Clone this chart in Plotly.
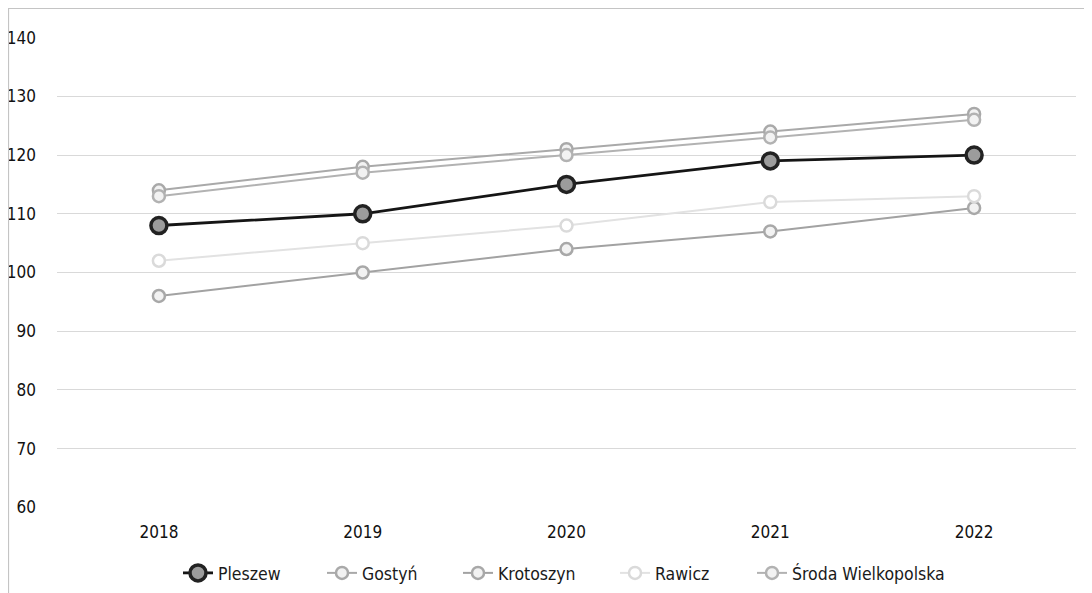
import plotly.graph_objects as go

years = ["2018", "2019", "2020", "2021", "2022"]
pleszew = [108, 110, 115, 119, 120]
gostyn = [114, 118, 121, 124, 127]
krotoszyn = [96, 100, 104, 107, 111]
rawicz = [102, 105, 108, 112, 113]
sroda = [113, 117, 120, 123, 126]
y_ticks = [60, 70, 80, 90, 100, 110, 120, 130, 140]
baseline = 100

# figure is offset 8px by the page's body margin
W, H = 1092, 593
tick_font = "Liberation Sans Narrow, DejaVu Sans Condensed, Arial Narrow, sans-serif"
leg_font = "DejaVu Sans Condensed, DejaVu Sans, sans-serif"

fig = go.Figure()

# legend box left edges (figure px)
legend_x = [170, 314, 450, 607, 744]
legend_names = ["legend", "legend2", "legend3", "legend4", "legend5"]

def add(i, name, vals, line_color, width, mfill, mline, mwidth, msize):
    fig.add_trace(go.Scatter(
        x=years, y=vals, name=name, mode="lines+markers",
        line=dict(color=line_color, width=width),
        marker=dict(size=msize, color=mfill, line=dict(color=mline, width=mwidth)),
        legend=legend_names[i],
    ))

add(0, "Pleszew", pleszew, "#151515", 2.8, "#9c9c9c", "#222222", 3.5, 16)
add(1, "Gostyń", gostyn, "#a9a9a9", 2, "#f2f2f2", "#a9a9a9", 2.5, 12)
add(2, "Krotoszyn", krotoszyn, "#a2a2a2", 2, "#f2f2f2", "#a8a8a8", 2.5, 12)
add(3, "Rawicz", rawicz, "#e2e2e2", 2, "#ffffff", "#dadada", 2.5, 12)
add(4, "Środa Wielkopolska", sroda, "#b2b2b2", 2, "#f2f2f2", "#b2b2b2", 2.5, 12)

legends = {}
for i, ln in enumerate(legend_names):
    legends[ln] = dict(orientation="h", xref="container", x=legend_x[i] / W, xanchor="left",
                       yref="container", y=1 - 565 / H, yanchor="middle",
                       font=dict(family=leg_font, size=17.5, color="#1a1a1a"),
                       bgcolor="rgba(0,0,0,0)")

fig.update_layout(
    width=W, height=H,
    paper_bgcolor="white", plot_bgcolor="white",
    margin=dict(l=49, r=24, t=29, b=93),
    font=dict(family=tick_font, size=17, color="#111"),
    showlegend=True,
    xaxis=dict(type="category", range=[-0.5, 4.5], showgrid=False, zeroline=False,
               showline=False, ticks="", tickfont=dict(family=tick_font, size=17, color="#111"),
               ticklabelstandoff=12),
    yaxis=dict(range=[59.9, 140.1], tickvals=y_ticks, showgrid=True, gridcolor="#d9d9d9",
               gridwidth=1, zeroline=False, showline=False, ticks="",
               tickfont=dict(family=tick_font, size=17, color="#111"), ticklabelstandoff=20),
    shapes=[
        dict(type="line", xref="paper", yref="y", x0=0, x1=1, y0=baseline, y1=baseline,
             line=dict(color="#a8a8a8", width=1), layer="below"),
        dict(type="line", xref="paper", yref="paper", x0=-48.5 / 1019, x1=-48.5 / 1019, y0=-0.2, y1=1.1,
             line=dict(color="#c4c4c4", width=1.2)),
        dict(type="line", xref="paper", yref="paper", x0=-0.06, x1=1.05, y0=1 + 28.5 / 471, y1=1 + 28.5 / 471,
             line=dict(color="#c4c4c4", width=1.2)),
    ],
    **legends,
)
fig.update_yaxes(automargin=False)
fig.update_xaxes(automargin=False)

fig.write_html("out.html")
